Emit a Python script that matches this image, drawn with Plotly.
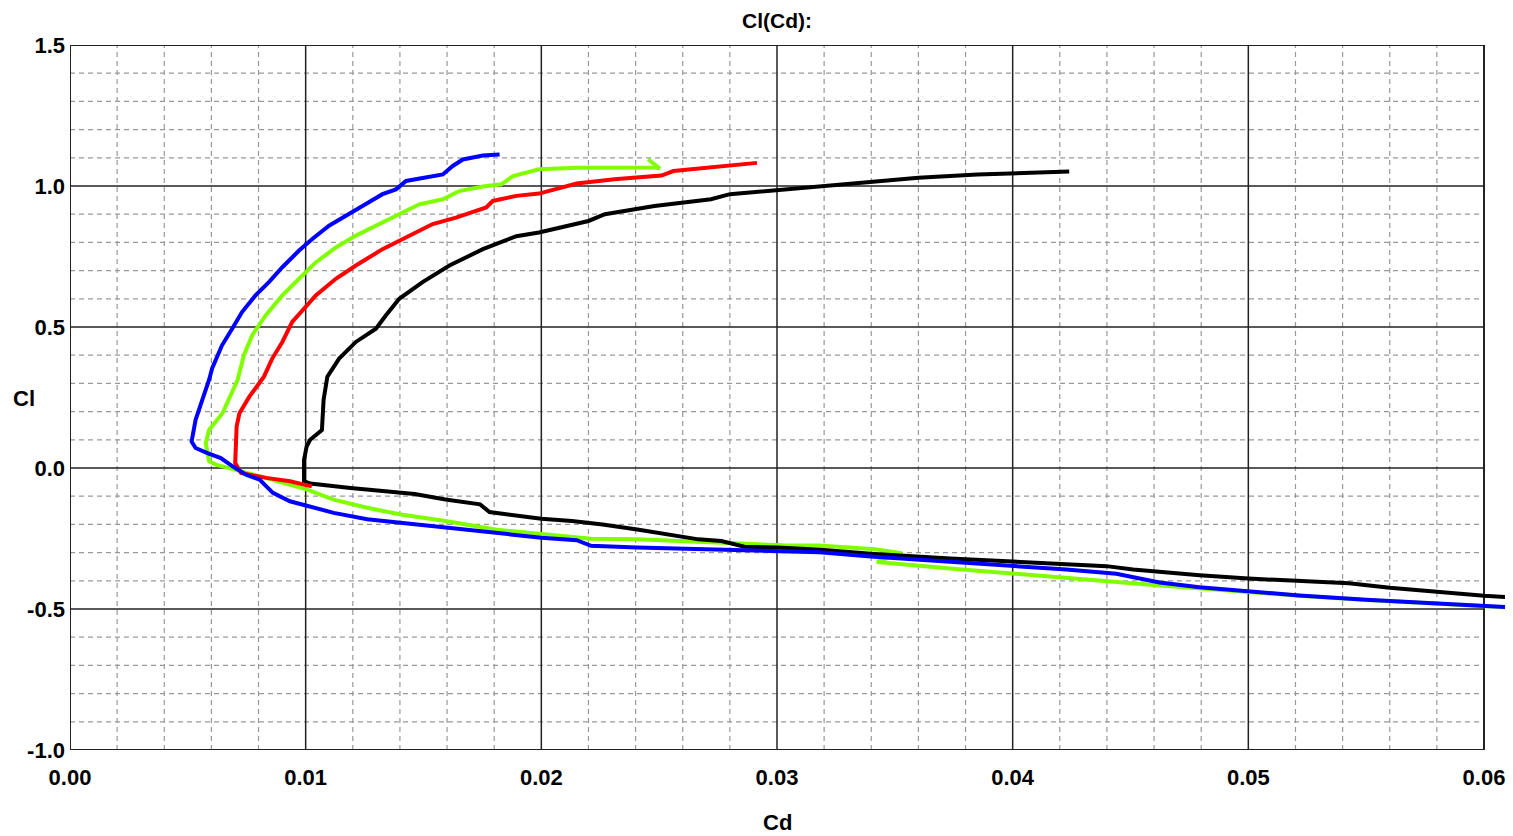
import plotly.graph_objects as go

# ---- data ----
blue_cd = [0.01823, 0.01752, 0.01667, 0.01624, 0.01582, 0.01496, 0.01426, 0.01383, 0.01326, 0.01241,
           0.01184, 0.01099, 0.01028, 0.00972, 0.00901, 0.00844, 0.00787, 0.00730, 0.00688, 0.00645,
           0.00603, 0.00590, 0.00561, 0.00533, 0.00516, 0.00533, 0.00583, 0.00640, 0.00690, 0.00747,
           0.00804, 0.00861, 0.00933, 0.01004, 0.01119, 0.01261, 0.01404, 0.01626, 0.01821, 0.02000,
           0.02150, 0.02211, 0.02407, 0.02700, 0.03000, 0.03180, 0.03398, 0.03593, 0.03780, 0.04000,
           0.04228, 0.04440, 0.04539, 0.04623, 0.04793, 0.05000, 0.05216, 0.05500, 0.05800, 0.06000,
           0.06250]
blue_cl = [1.112, 1.108, 1.094, 1.071, 1.041, 1.029, 1.018, 0.988, 0.971, 0.929,
           0.900, 0.859, 0.812, 0.771, 0.712, 0.659, 0.612, 0.553, 0.494, 0.435,
           0.353, 0.312, 0.241, 0.171, 0.094, 0.071, 0.053, 0.035, 0.006, -0.024,
           -0.041, -0.088, -0.118, -0.135, -0.159, -0.182, -0.194, -0.212, -0.229, -0.247,
           -0.256, -0.276, -0.282, -0.288, -0.294, -0.299, -0.314, -0.324, -0.337, -0.348,
           -0.360, -0.375, -0.390, -0.406, -0.423, -0.438, -0.452, -0.467, -0.481, -0.492,
           -0.500]

green_cd = [0.02453, 0.02503, 0.02480, 0.02150, 0.01990, 0.01880, 0.01830, 0.01752, 0.01652, 0.01582,
            0.01482, 0.01383, 0.01298, 0.01213, 0.01128, 0.01043, 0.00972, 0.00901, 0.00830, 0.00773,
            0.00738, 0.00711, 0.00647, 0.00590, 0.00576, 0.00590, 0.00619, 0.00704, 0.00804, 0.00904,
            0.01004, 0.01119, 0.01261, 0.01404, 0.01593, 0.01805, 0.02000, 0.02211, 0.02407, 0.02667,
            0.02862, 0.03024, 0.03180, 0.03415, 0.03530, 0.03424, 0.03760, 0.04000, 0.04228, 0.04440,
            0.04623, 0.04800, 0.05000, 0.05200, 0.05500, 0.05800, 0.06000, 0.06250]
green_cl = [1.095, 1.062, 1.066, 1.065, 1.059, 1.035, 1.006, 0.998, 0.982, 0.953,
            0.935, 0.894, 0.859, 0.824, 0.782, 0.729, 0.671, 0.612, 0.541, 0.471,
            0.400, 0.312, 0.194, 0.135, 0.088, 0.024, 0.012, -0.006, -0.029, -0.053,
            -0.076, -0.112, -0.141, -0.165, -0.188, -0.218, -0.235, -0.251, -0.253, -0.262,
            -0.271, -0.274, -0.275, -0.288, -0.302, -0.333, -0.358, -0.375, -0.392, -0.406,
            -0.417, -0.427, -0.440, -0.452, -0.468, -0.482, -0.493, -0.501]

red_cd = [0.02915, 0.02720, 0.02560, 0.02510, 0.02310, 0.02150, 0.01990, 0.01894, 0.01794, 0.01766,
          0.01638, 0.01539, 0.01440, 0.01326, 0.01213, 0.01128, 0.01043, 0.00943, 0.00901, 0.00858,
          0.00823, 0.00761, 0.00719, 0.00707, 0.00701, 0.00726, 0.00833, 0.00933, 0.01026]
red_cl = [1.082, 1.065, 1.053, 1.037, 1.024, 1.009, 0.973, 0.965, 0.947, 0.924,
          0.888, 0.865, 0.824, 0.776, 0.718, 0.671, 0.612, 0.518, 0.447, 0.388,
          0.324, 0.253, 0.194, 0.147, 0.018, -0.018, -0.035, -0.047, -0.065]

black_cd = [0.04240, 0.04010, 0.03850, 0.03600, 0.03440, 0.03200, 0.03000, 0.02800, 0.02720, 0.02480,
            0.02270, 0.02200, 0.01990, 0.01894, 0.01752, 0.01610, 0.01496, 0.01397, 0.01340, 0.01298,
            0.01213, 0.01142, 0.01092, 0.01076, 0.01069, 0.01019, 0.01004, 0.00993, 0.00993, 0.01019,
            0.01190, 0.01333, 0.01398, 0.01463, 0.01593, 0.01740, 0.01780, 0.01886, 0.02000, 0.02130,
            0.02260, 0.02407, 0.02537, 0.02667, 0.02764, 0.02862, 0.03000, 0.03187, 0.03398, 0.03523,
            0.03735, 0.04000, 0.04228, 0.04398, 0.04511, 0.04652, 0.04793, 0.05000, 0.05216, 0.05427,
            0.05600, 0.05800, 0.06000, 0.06250]
black_cl = [1.051, 1.047, 1.041, 1.029, 1.018, 1.002, 0.985, 0.971, 0.953, 0.929,
            0.900, 0.876, 0.835, 0.822, 0.776, 0.718, 0.659, 0.600, 0.541, 0.494,
            0.447, 0.388, 0.324, 0.241, 0.135, 0.100, 0.076, 0.029, -0.047, -0.055,
            -0.071, -0.082, -0.088, -0.092, -0.112, -0.129, -0.156, -0.168, -0.180, -0.188,
            -0.200, -0.218, -0.235, -0.253, -0.259, -0.279, -0.282, -0.290, -0.304, -0.309,
            -0.321, -0.332, -0.340, -0.348, -0.360, -0.371, -0.380, -0.392, -0.400, -0.409,
            -0.425, -0.440, -0.453, -0.465]

x_ticks = [0.00, 0.01, 0.02, 0.03, 0.04, 0.05, 0.06]
x_tick_text = ["0.00", "0.01", "0.02", "0.03", "0.04", "0.05", "0.06"]
y_ticks = [-1.0, -0.5, 0.0, 0.5, 1.0, 1.5]
y_tick_text = ["-1.0", "-0.5", "0.0", "0.5", "1.0", "1.5"]
x_minor_step = 0.002
y_minor_step = 0.1

# ---- figure ----
PAGE_OFF = 8                       # browser default body margin
W, H = 1513 - PAGE_OFF, 836 - PAGE_OFF
ML, MR, MT, MB = 70 - PAGE_OFF, 0, 45 - PAGE_OFF, 86
PX_L, PX_T = 70, 45                # plot-area origin in page pixels
xmin, xmax = x_ticks[0], x_ticks[-1]
ymin, ymax = y_ticks[0], y_ticks[-1]
plot_w = W - ML - MR
plot_h = H - MT - MB
frame_w = 1414.0
x_range_max = xmax * plot_w / frame_w

fig = go.Figure()
series = [
    ("black", black_cd, black_cl, "#000000"),
    ("green", green_cd, green_cl, "#80FF00"),
    ("red", red_cd, red_cl, "#FF0000"),
    ("blue", blue_cd, blue_cl, "#0000FF"),
]
for name in ["green", "black", "red", "blue"]:
    for n, xs, ys, c in series:
        if n == name:
            fig.add_trace(go.Scatter(x=xs, y=ys, mode="lines", name=n,
                                     line=dict(color=c, width=4), showlegend=False,
                                     hoverinfo="skip"))

shapes = []
nx = int(round((xmax - xmin) / x_minor_step))
for i in range(1, nx):
    if i % 5 == 0:
        continue
    v = xmin + i * x_minor_step
    shapes.append(dict(type="line", xref="x", yref="y", x0=v, x1=v, y0=ymin, y1=ymax,
                       line=dict(color="#999999", width=1.2, dash="5px,4px"), layer="below"))
ny = int(round((ymax - ymin) / y_minor_step))
for i in range(1, ny):
    if i % 5 == 0:
        continue
    v = ymin + i * y_minor_step
    shapes.append(dict(type="line", xref="x", yref="y", x0=xmin, x1=xmax, y0=v, y1=v,
                       line=dict(color="#999999", width=1.2, dash="5px,4px"), layer="below"))
for v in x_ticks[1:-1]:
    shapes.append(dict(type="line", xref="x", yref="y", x0=v, x1=v, y0=ymin, y1=ymax,
                       line=dict(color="#222222", width=1.5), layer="below"))
for v in y_ticks[1:-1]:
    shapes.append(dict(type="line", xref="x", yref="y", x0=xmin, x1=xmax, y0=v, y1=v,
                       line=dict(color="#222222", width=1.5), layer="below"))
shapes.append(dict(type="rect", xref="x", yref="y", x0=xmin, x1=xmax, y0=ymin, y1=ymax,
                   line=dict(color="#222222", width=2), layer="below"))

FONT = "Arial, 'Liberation Sans', sans-serif"


def px_x(p):
    return (p - PX_L) / plot_w


def px_y(p):
    return 1 - (p - PX_T) / plot_h


fig.update_layout(
    width=W, height=H,
    margin=dict(l=ML, r=MR, t=MT, b=MB, autoexpand=False),
    paper_bgcolor="white", plot_bgcolor="white",
    shapes=shapes,
    xaxis=dict(range=[xmin, x_range_max], tickvals=x_ticks, ticktext=x_tick_text,
               showgrid=False, zeroline=False, showline=False, ticks="",
               automargin=False, ticklabelstandoff=12,
               tickfont=dict(family=FONT, size=22, color="#000000", weight="bold")),
    yaxis=dict(range=[ymin, ymax], tickvals=y_ticks, ticktext=y_tick_text,
               showgrid=False, zeroline=False, showline=False, ticks="",
               automargin=False, ticklabelstandoff=4,
               tickfont=dict(family=FONT, size=22, color="#000000", weight="bold")),
    annotations=[
        dict(text="<b>Cl(Cd):</b>", xref="paper", yref="paper",
             x=px_x(777), y=px_y(20), xanchor="center", yanchor="middle", showarrow=False,
             borderpad=0, font=dict(family=FONT, size=21, color="#000000")),
        dict(text="<b>Cl</b>", xref="paper", yref="paper",
             x=px_x(24), y=px_y(399), xanchor="center", yanchor="middle", showarrow=False,
             font=dict(family=FONT, size=22, color="#000000")),
        dict(text="<b>Cd</b>", xref="paper", yref="paper",
             x=px_x(777), y=px_y(822), xanchor="center", yanchor="middle", showarrow=False,
             font=dict(family=FONT, size=22, color="#000000")),
    ],
)

fig.write_html("out.html")
